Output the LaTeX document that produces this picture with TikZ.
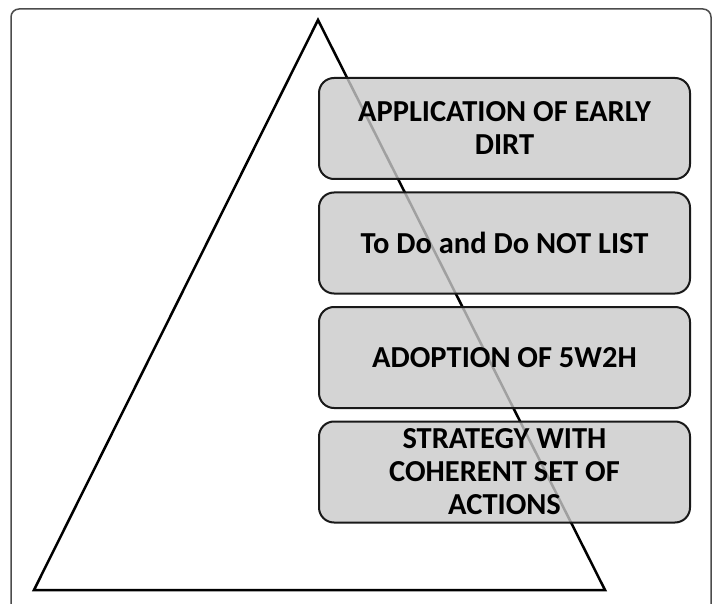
\documentclass[tikz,border=0pt]{standalone}
\usepackage{fontspec}
\setmainfont{Carlito}
\usetikzlibrary{positioning}

\begin{document}
\begin{tikzpicture}[
  x=1pt, y=-1pt,
  level/.style = {draw=black!90, line width=2pt, rounded corners=15pt,
                  fill=black!21, fill opacity=0.8, text opacity=1,
                  minimum width=371pt, minimum height=101pt,
                  align=center, font=\fontsize{30.5}{33}\selectfont\bfseries},
]
  \useasboundingbox (0,0) rectangle (715,604);
  \clip (0,0) rectangle (715,604);

  % outer frame, open at the bottom
  \draw[black!70, line width=1.5pt, rounded corners=8pt]
    (11,640) -- (11,9) -- (711,9) -- (711,640);

  % pyramid
  \coordinate (apex)  at (318,20);
  \coordinate (baseL) at (34,590);
  \coordinate (baseR) at (605,590);
  \draw[line width=2.5pt, line join=miter] (apex) -- (baseR) -- (baseL) -- cycle;

  % steps, top to bottom
  \node[level, anchor=north west] (dirt) at (318,77)
    {APPLICATION OF EARLY\\DIRT};
  \node[level, below=11.5pt of dirt]  (todo)     {To Do and Do NOT LIST};
  \node[level, below=11.5pt of todo]  (wtwoh)    {ADOPTION OF 5W2H};
  \node[level, below=11.5pt of wtwoh] (strategy) {STRATEGY WITH\\COHERENT SET OF\\ACTIONS};
\end{tikzpicture}
\end{document}
